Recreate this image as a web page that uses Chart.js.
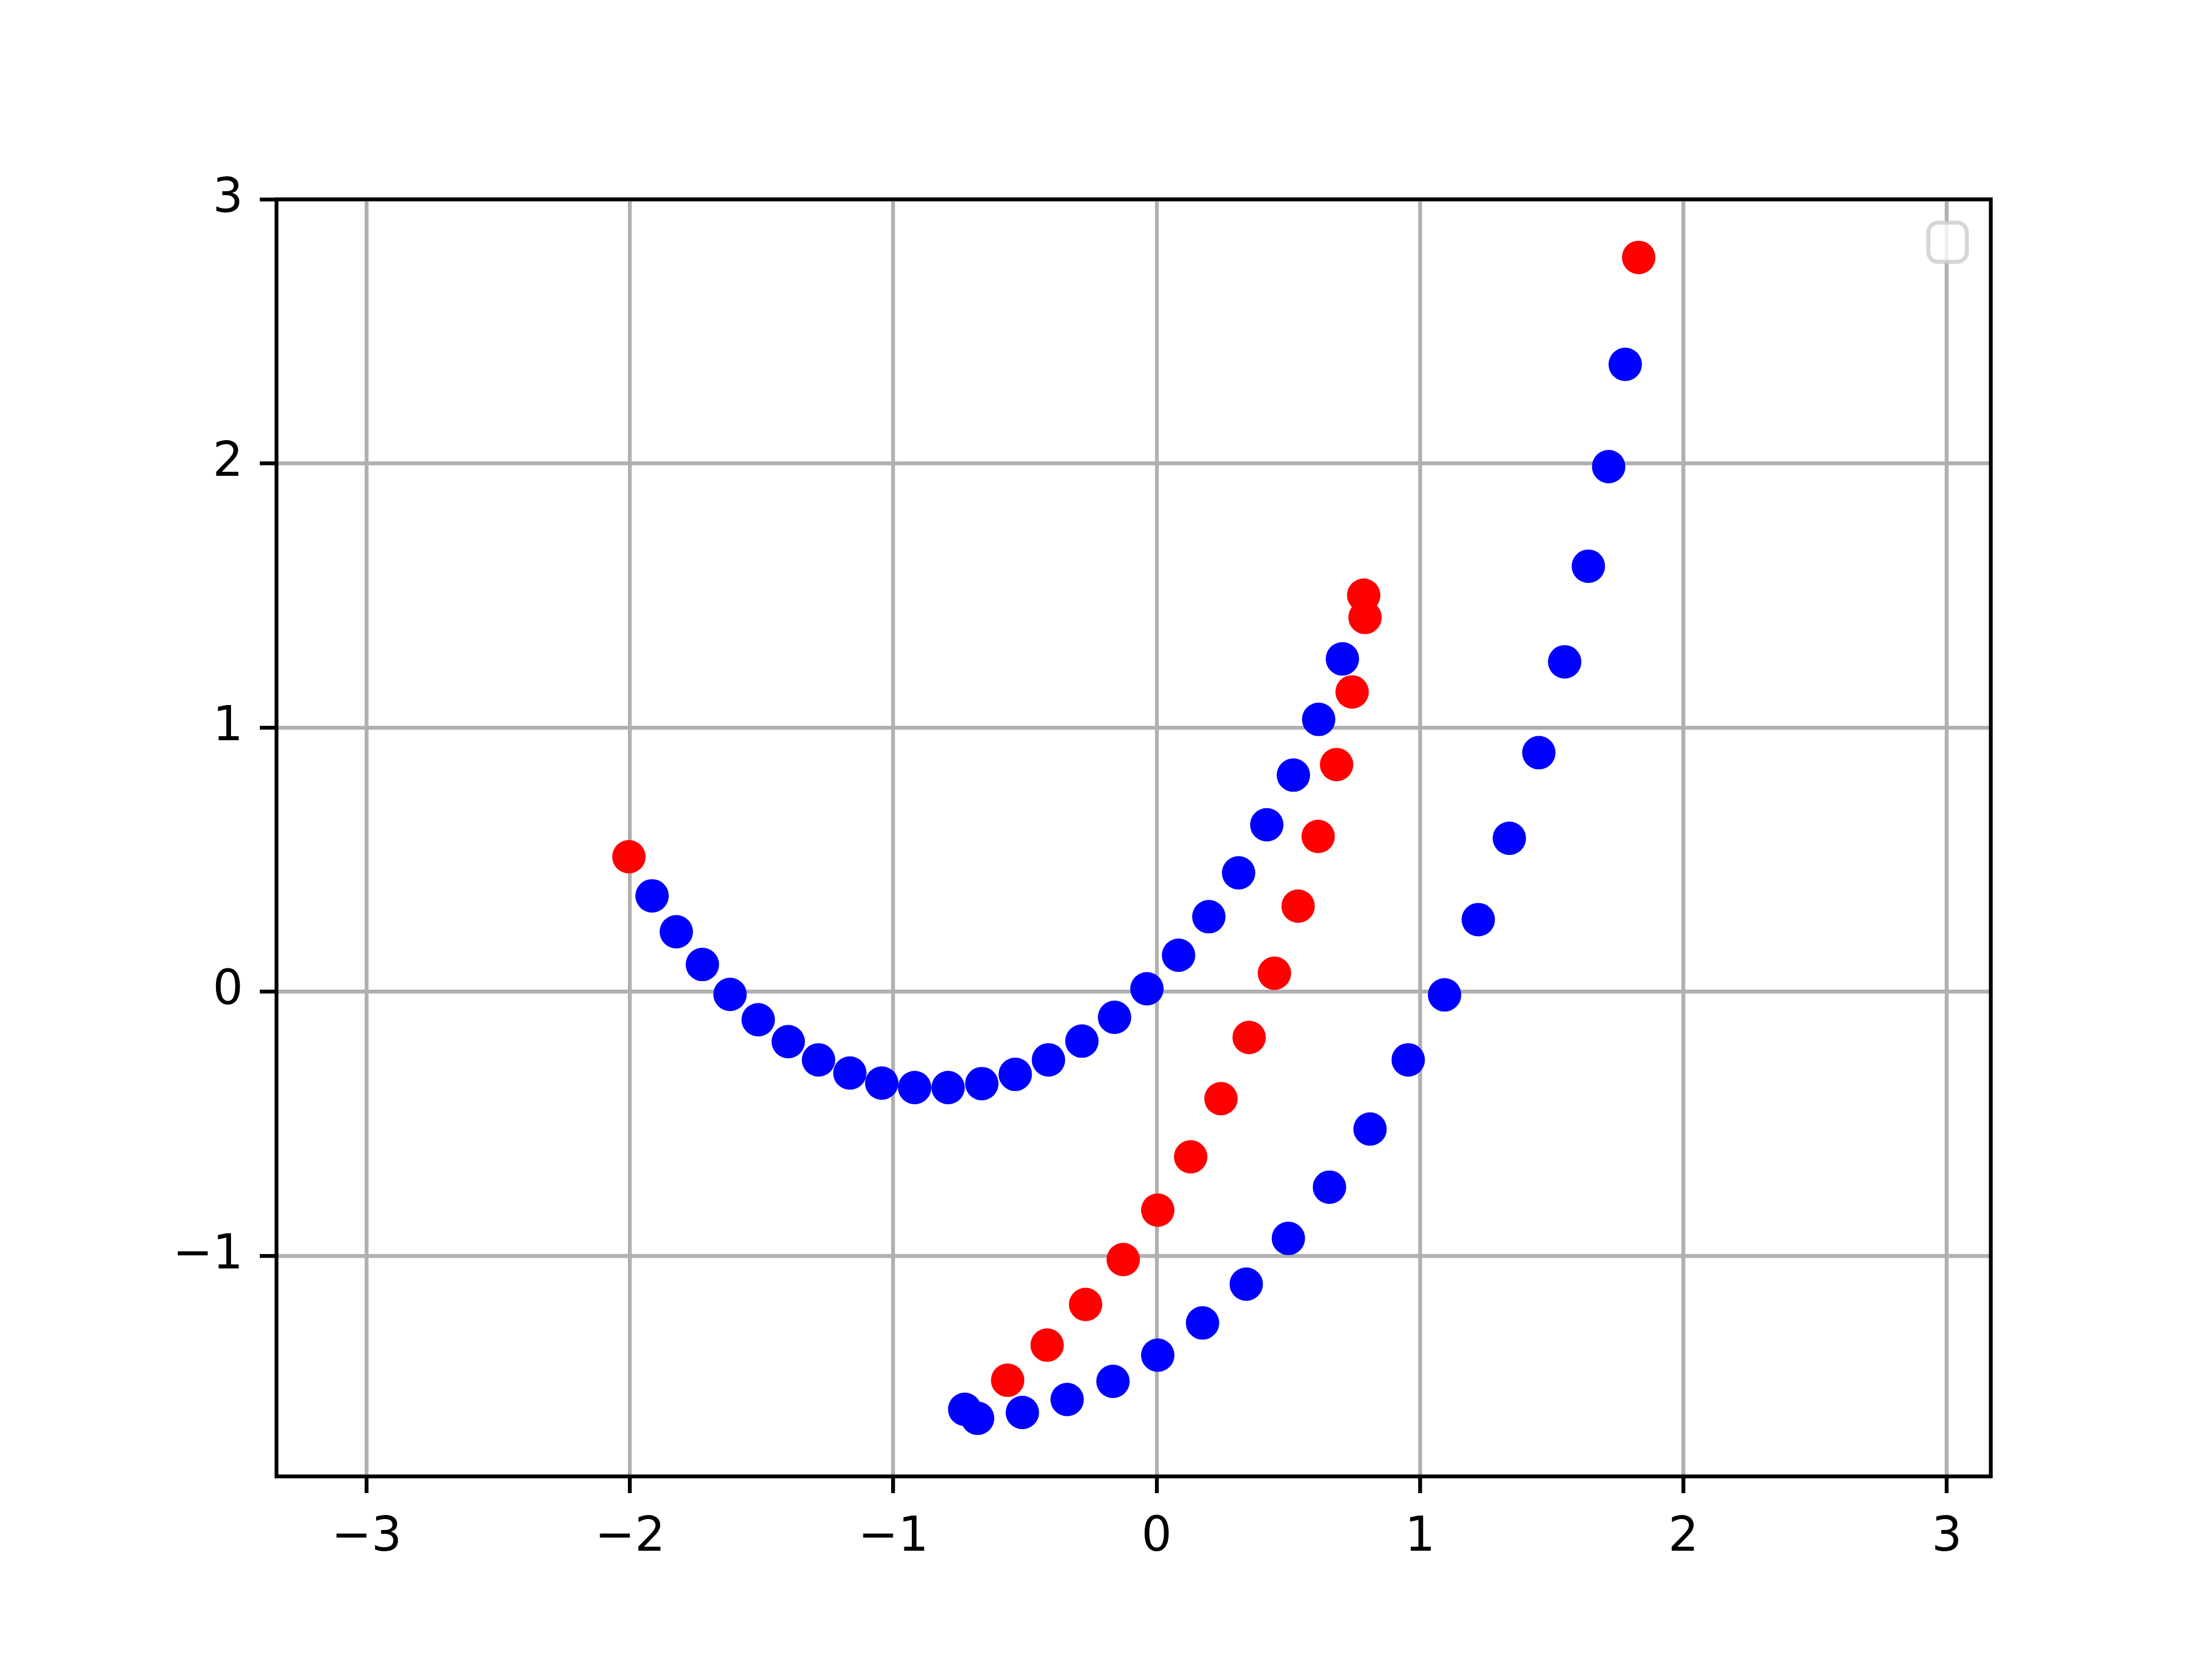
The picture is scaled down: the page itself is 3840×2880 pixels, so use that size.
<!DOCTYPE html>
<html>
<head>
<meta charset="utf-8">
<script src="https://cdn.jsdelivr.net/npm/chart.js@4/dist/chart.umd.min.js"></script>
<style>
  html, body { margin: 0; padding: 0; background: #fff; }
  canvas { display: block; }
</style>
</head>
<body>
<canvas id="chart" width="3840" height="2880"></canvas>
<script>
// Axis ticks
const xTicks = [-3, -2, -1, 0, 1, 2, 3];
const xTickLabels = ["\u22123", "\u22122", "\u22121", "0", "1", "2", "3"];
const yTicks = [-1, 0, 1, 2, 3];
const yTickLabels = ["\u22121", "0", "1", "2", "3"];

// Blue points, upper curve
const blueUpperX = [-1.916, -1.824, -1.725, -1.620, -1.513, -1.399, -1.284, -1.165, -1.044, -0.919, -0.792, -0.664,
  -0.537, -0.411, -0.284, -0.160, -0.037, 0.083, 0.198, 0.311, 0.418, 0.519, 0.615, 0.705];
const blueUpperY = [0.363, 0.227, 0.103, -0.010, -0.106, -0.189, -0.258, -0.308, -0.346, -0.363, -0.363, -0.348,
  -0.313, -0.258, -0.187, -0.097, 0.011, 0.138, 0.284, 0.450, 0.632, 0.820, 1.031, 1.260];

// Blue points, lower curve
const blueLowerX = [-0.729, -0.680, -0.510, -0.340, -0.166, 0.004, 0.174, 0.340, 0.500, 0.656, 0.810, 0.955,
  1.093, 1.221, 1.339, 1.451, 1.549, 1.639, 1.716, 1.779];
const blueLowerY = [-1.581, -1.615, -1.593, -1.544, -1.475, -1.376, -1.254, -1.107, -0.934, -0.740, -0.520, -0.258,
  -0.012, 0.273, 0.581, 0.905, 1.249, 1.611, 1.988, 2.375];

// Red points
const redX = [-2.004, -0.566, -0.416, -0.270, -0.127, 0.004, 0.129, 0.244, 0.351, 0.447, 0.537, 0.613,
  0.683, 0.742, 0.791, 0.786, 1.830];
const redY = [0.511, -1.471, -1.338, -1.184, -1.014, -0.827, -0.625, -0.405, -0.173, 0.070, 0.324, 0.588,
  0.860, 1.135, 1.417, 1.501, 2.780];

function toPoints(xs, ys) {
  return xs.map((x, i) => ({ x: x, y: ys[i] }));
}

const LW = 6.67; // 0.8pt at 600 dpi
const FONT = { family: "'DejaVu Sans', sans-serif", size: 83 };

// Frame (all four spines) and the empty legend box
const framePlugin = {
  id: "frame",
  afterDatasetsDraw(chart) {
    const { ctx, chartArea: a } = chart;
    ctx.save();

    // empty legend in the upper right corner
    const x = 3347.5, y = 386.5, w = 67, h = 68, r = 17;
    ctx.beginPath();
    ctx.roundRect(x, y, w, h, r);
    ctx.fillStyle = "rgba(255,255,255,0.8)";
    ctx.fill();
    ctx.lineWidth = 7;
    ctx.strokeStyle = "rgba(204,204,204,0.8)";
    ctx.stroke();

    ctx.lineWidth = LW;
    ctx.strokeStyle = "#000";
    ctx.lineJoin = "miter";
    ctx.strokeRect(a.left, a.top, a.right - a.left, a.bottom - a.top);
    ctx.restore();
  },
};

const ctx = document.getElementById("chart").getContext("2d");

new Chart(ctx, {
  type: "scatter",
  data: {
    datasets: [
      {
        data: toPoints(blueUpperX, blueUpperY),
        backgroundColor: "#0000ff",
        borderWidth: 0,
        pointRadius: 29,
      },
      {
        data: toPoints(blueLowerX, blueLowerY),
        backgroundColor: "#0000ff",
        borderWidth: 0,
        pointRadius: 29,
      },
      {
        data: toPoints(redX, redY),
        backgroundColor: "#ff0000",
        borderWidth: 0,
        pointRadius: 29,
      },
    ],
  },
  options: {
    responsive: false,
    animation: false,
    devicePixelRatio: 1,
    events: [],
    layout: {
      padding: { left: 0, top: 346, right: 384, bottom: 0 },
    },
    plugins: {
      legend: { display: false },
      tooltip: { enabled: false },
    },
    scales: {
      x: {
        type: "linear",
        min: -3.342,
        max: 3.167,
        afterBuildTicks: (scale) => {
          scale.ticks = xTicks.map((v) => ({ value: v }));
        },
        afterFit: (scale) => {
          scale.height = 317;
        },
        border: { display: false },
        grid: {
          color: "#b0b0b0",
          lineWidth: LW,
          drawTicks: true,
          tickLength: 29,
          tickColor: "#000",
          tickWidth: LW,
        },
        ticks: {
          autoSkip: false,
          maxRotation: 0,
          padding: 29,
          color: "#000",
          font: FONT,
          callback: (value) => xTickLabels[xTicks.indexOf(value)],
        },
      },
      y: {
        type: "linear",
        min: -1.835,
        max: 3.0,
        afterBuildTicks: (scale) => {
          scale.ticks = yTicks.map((v) => ({ value: v }));
        },
        afterFit: (scale) => {
          scale.width = 480;
        },
        border: { display: false },
        grid: {
          color: "#b0b0b0",
          lineWidth: LW,
          drawTicks: true,
          tickLength: 29,
          tickColor: "#000",
          tickWidth: LW,
        },
        ticks: {
          autoSkip: false,
          padding: 29,
          color: "#000",
          font: FONT,
          callback: (value) => yTickLabels[yTicks.indexOf(value)],
        },
      },
    },
  },
  plugins: [framePlugin],
});
</script>
</body>
</html>
